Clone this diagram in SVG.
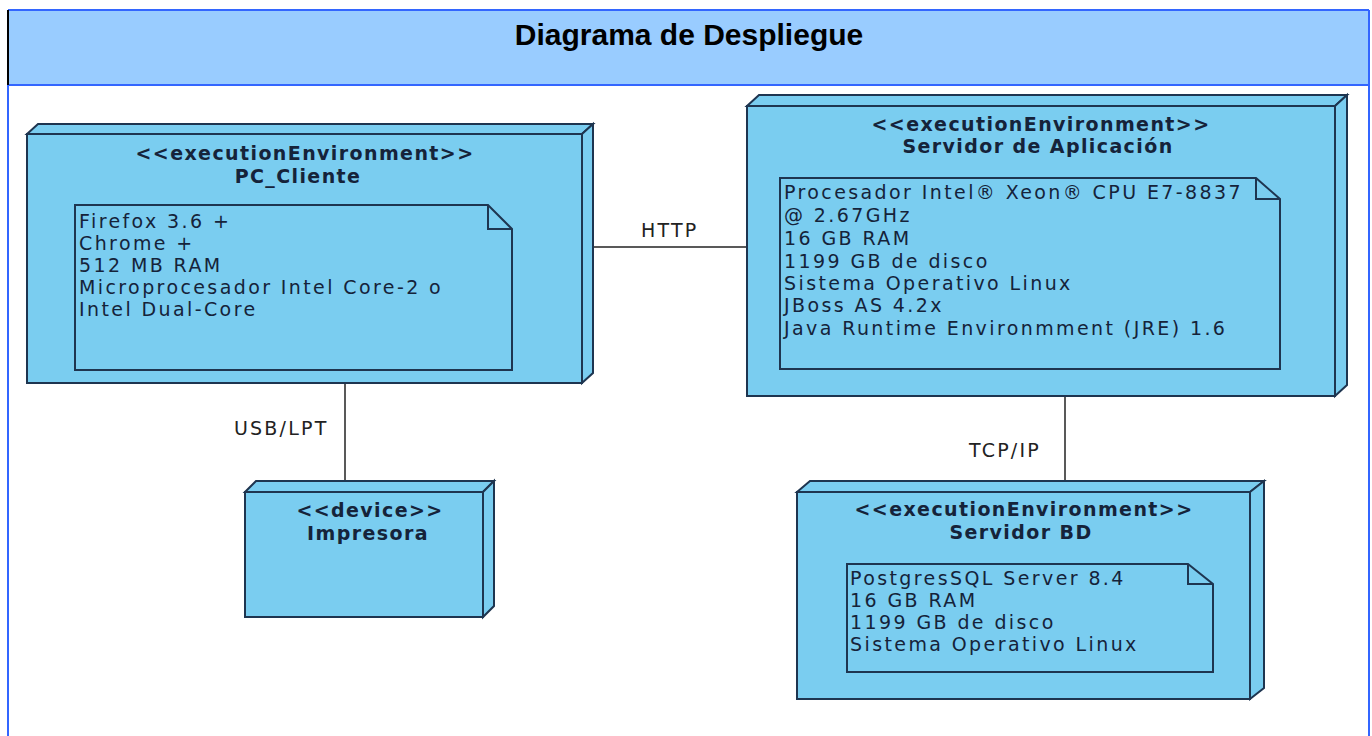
<svg xmlns="http://www.w3.org/2000/svg" width="1372" height="736" viewBox="0 0 1372 736">
<style>
.face{fill:#7ACDF0;stroke:#1E3550;stroke-width:2;stroke-linejoin:miter}
.note{fill:#7ACDF0;stroke:#1E3550;stroke-width:2}
.st{font-family:"DejaVu Sans",Verdana,sans-serif;font-weight:bold;font-size:19px;letter-spacing:1.4px;fill:#15233A;text-anchor:middle}
.nt{font-family:"DejaVu Sans",Verdana,sans-serif;font-size:19px;letter-spacing:2.4px;fill:#15233A}
.lbl{font-family:"DejaVu Sans",Verdana,sans-serif;font-size:19px;letter-spacing:2.2px;fill:#222}
.conn{stroke:#222;stroke-width:1.5;fill:none}
</style>
<rect width="1372" height="736" fill="#fff"/>
<g id="frame">
<rect x="8" y="10" width="1361" height="75" fill="#99CCFF"/>
<line x1="8" y1="10" x2="1369" y2="10" stroke="#3366FF" stroke-width="2"/>
<line x1="8" y1="85" x2="1369" y2="85" stroke="#3366FF" stroke-width="2"/>
<line x1="1369" y1="10" x2="1369" y2="736" stroke="#3366FF" stroke-width="2"/>
<line x1="8" y1="85" x2="8" y2="736" stroke="#3366FF" stroke-width="2"/>
<line x1="8" y1="10" x2="8" y2="85" stroke="#000" stroke-width="2"/>
<text x="689" y="45" font-family="Liberation Sans,Arial,sans-serif" font-weight="bold" font-size="30" text-anchor="middle" fill="#000">Diagrama de Despliegue</text>
</g>
<g id="connectors">
<line class="conn" x1="593" y1="247" x2="747" y2="247"/>
<text class="lbl" x="641" y="237">HTTP</text>
<line class="conn" x1="345" y1="383" x2="345" y2="481"/>
<text class="lbl" x="234" y="435">USB/LPT</text>
<line class="conn" x1="1065" y1="396" x2="1065" y2="481"/>
<text class="lbl" x="969" y="457">TCP/IP</text>
</g>
<g id="pc_cliente">
<path class="face" d="M27,134 L38,124 L593,124 L582,134 Z"/>
<path class="face" d="M582,134 L593,124 L593,373 L582,383 Z"/>
<rect class="face" x="27" y="134" width="555" height="249"/>
<text class="st" x="305" y="160">&lt;&lt;executionEnvironment&gt;&gt;</text>
<text class="st" x="298" y="183">PC_Cliente</text>
<path class="note" d="M75,205 L488,205 L512,229 L512,370 L75,370 Z M488,205 L488,229 L512,229"/>
<text class="nt" x="79" y="228">Firefox 3.6 +</text>
<text class="nt" x="79" y="250">Chrome +</text>
<text class="nt" x="79" y="272">512 MB RAM</text>
<text class="nt" x="79" y="294">Microprocesador Intel Core-2 o</text>
<text class="nt" x="79" y="316">Intel Dual-Core</text>
</g>
<g id="servidor_aplicacion">
<path class="face" d="M747,106 L759,95 L1347,95 L1335,106 Z"/>
<path class="face" d="M1335,106 L1347,95 L1347,385 L1335,396 Z"/>
<rect class="face" x="747" y="106" width="588" height="290"/>
<text class="st" x="1041" y="131">&lt;&lt;executionEnvironment&gt;&gt;</text>
<text class="st" x="1038" y="153">Servidor de Aplicación</text>
<path class="note" d="M780,178 L1256,178 L1280,199 L1280,369 L780,369 Z M1256,178 L1256,199 L1280,199"/>
<text class="nt" x="784" y="199">Procesador Intel® Xeon® CPU E7-8837</text>
<text class="nt" x="784" y="222">@ 2.67GHz</text>
<text class="nt" x="784" y="245">16 GB RAM</text>
<text class="nt" x="784" y="268">1199 GB de disco</text>
<text class="nt" x="784" y="290">Sistema Operativo Linux</text>
<text class="nt" x="784" y="312">JBoss AS 4.2x</text>
<text class="nt" x="784" y="335">Java Runtime Environmment (JRE) 1.6</text>
</g>
<g id="impresora">
<path class="face" d="M245,492 L256,481 L494,481 L483,492 Z"/>
<path class="face" d="M483,492 L494,481 L494,606 L483,617 Z"/>
<rect class="face" x="245" y="492" width="238" height="125"/>
<text class="st" x="370" y="517">&lt;&lt;device&gt;&gt;</text>
<text class="st" x="368" y="540">Impresora</text>
</g>
<g id="servidor_bd">
<path class="face" d="M797,492 L810,481 L1264,481 L1250,492 Z"/>
<path class="face" d="M1250,492 L1264,481 L1264,688 L1250,699 Z"/>
<rect class="face" x="797" y="492" width="453" height="207"/>
<text class="st" x="1024" y="516">&lt;&lt;executionEnvironment&gt;&gt;</text>
<text class="st" x="1021" y="539">Servidor BD</text>
<path class="note" d="M847,564 L1188,564 L1213,584 L1213,672 L847,672 Z M1188,564 L1188,584 L1213,584"/>
<text class="nt" x="850" y="585">PostgresSQL Server 8.4</text>
<text class="nt" x="850" y="607">16 GB RAM</text>
<text class="nt" x="850" y="629">1199 GB de disco</text>
<text class="nt" x="850" y="651">Sistema Operativo Linux</text>
</g>
</svg>
